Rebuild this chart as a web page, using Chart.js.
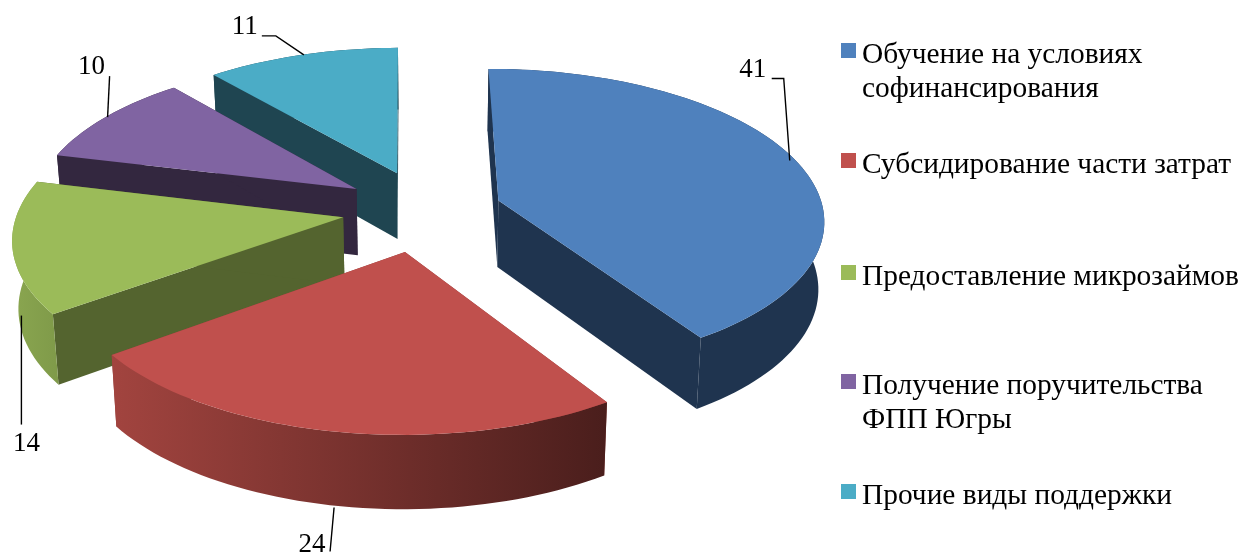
<!DOCTYPE html>
<html lang="ru">
<head>
<meta charset="utf-8">
<title>Виды поддержки</title>
<script src="https://cdn.jsdelivr.net/npm/chart.js@4"></script>
<style>
  html, body { margin: 0; background: #fff; }
  #wrap { position: relative; width: 1253px; height: 554px; overflow: hidden; }
  canvas { display: block; }
  .item { position: absolute; left: 862px; width: 388px; font: 29.4px/33.5px "Liberation Serif", serif; color: #000; }
  .item i { position: absolute; left: -21px; top: 6px; width: 15px; height: 15px; }
</style>
</head>
<body>
<div id="wrap"><canvas id="pie" width="1253" height="554"></canvas></div>
<script>
const categories = [
  "Обучение на условиях софинансирования",
  "Субсидирование части затрат",
  "Предоставление микрозаймов",
  "Получение поручительства ФПП Югры",
  "Прочие виды поддержки",
];
const values = [41, 24, 14, 10, 11];
const explode = [73, 92, 90, 88, 95];

const topColors = ["#4f81bd", "#c0504d", "#9bbb59", "#8064a2", "#4bacc6"];
const wallColors = ["#1f344f", "#8f3f3b", "#54642f", "#33273f", "#1f4551"];
const rimStart = ["#1f344f", "#a2443f", "#8aa650", "#33273f", "#1f4551"];
const rimEnd = ["#1f344f", "#4a1e1c", "#7f9a49", "#33273f", "#1f4551"];

// small screen shift per slice, the explosion alone does not land them exactly
const nudge = [[-1, 0], [-8, -1], [2, -1], [0, 0], [-1, 3]];

// leader line as offsets from the middle of the slice's outer edge, then text spot
const leaders = [
  { pts: [[-5, 1], [-11, -81], [-23, -81]], text: [-42, -83] },
  { pts: [[0, 76], [-4, 120]], text: [-22, 120] },
  { pts: [[9, 68], [9, 177]], text: [14, 203] },
  { pts: [[2, 0], [4, -41]], text: [-14, -43] },
  { pts: [[2, 0], [-26, -19], [-40, -19]], text: [-57, -21] },
];
const legendTop = [37, 147, 259, 368, 478];

const TILT = 0.46;      // squash of the disc plane
const VIEW_DIST = 2700; // perspective
const DEPTH = 67;
const BOTTOM_SHRINK = 0.015;
const DRAW_ORDER = [4, 3, 2, 0, 1];

function project(arc, i, u, v, z) {
  const s = 1 / (1 - v / VIEW_DIST);
  return [
    arc.x + nudge[i][0] + u * s * (1 - z * BOTTOM_SHRINK),
    arc.y + nudge[i][1] + v * TILT * s + z * DEPTH * (1 + (s - 1) * 0.6),
  ];
}

function sliceShape(arc, offset) {
  const mid = (arc.startAngle + arc.endAngle) / 2;
  const ox = Math.cos(mid) * offset;
  const oy = Math.sin(mid) * offset;
  const r = arc.outerRadius;
  const steps = Math.ceil((arc.endAngle - arc.startAngle) / 0.03);
  const edge = [];
  for (let i = 0; i <= steps; i++) {
    const a = arc.startAngle + (arc.endAngle - arc.startAngle) * i / steps;
    edge.push([ox + r * Math.cos(a), oy + r * Math.sin(a)]);
  }
  return { apex: [ox, oy], edge, mid: [ox + r * Math.cos(mid), oy + r * Math.sin(mid)] };
}

function fillPoly(ctx, pts, color) {
  ctx.beginPath();
  pts.forEach((p, i) => (i ? ctx.lineTo(p[0], p[1]) : ctx.moveTo(p[0], p[1])));
  ctx.closePath();
  ctx.fillStyle = color;
  ctx.fill();
}

const pie3d = {
  id: "pie3d",
  beforeDatasetDraw(chart, args) {
    const { ctx } = chart;
    const arcs = args.meta.data;
    ctx.save();
    DRAW_ORDER.forEach(i => {
      const arc = arcs[i];
      const { apex, edge } = sliceShape(arc, arc.options.offset);
      const top = edge.map(p => project(arc, i, p[0], p[1], 0));
      const bottom = edge.map(p => project(arc, i, p[0], p[1], 1));
      const apexTop = project(arc, i, apex[0], apex[1], 0);
      const apexBottom = project(arc, i, apex[0], apex[1], 1);
      const last = top.length - 1;

      fillPoly(ctx, [apexTop, top[0], bottom[0], apexBottom], wallColors[i]);
      fillPoly(ctx, [apexTop, top[last], bottom[last], apexBottom], wallColors[i]);

      const rim = top.concat(bottom.slice().reverse());
      const xs = rim.map(p => p[0]);
      const grad = ctx.createLinearGradient(Math.min(...xs), 0, Math.max(...xs), 0);
      grad.addColorStop(0, rimStart[i]);
      grad.addColorStop(1, rimEnd[i]);
      fillPoly(ctx, rim, grad);

      fillPoly(ctx, [apexTop].concat(top), arc.options.backgroundColor);
    });
    ctx.restore();
    return false;
  },
  afterDatasetsDraw(chart) {
    const { ctx } = chart;
    ctx.save();
    ctx.strokeStyle = "#000";
    ctx.lineWidth = 1.4;
    ctx.fillStyle = "#000";
    ctx.font = '27px "Liberation Serif", serif';
    ctx.textBaseline = "alphabetic";
    ctx.textAlign = "center";
    chart.getDatasetMeta(0).data.forEach((arc, i) => {
      const m = sliceShape(arc, arc.options.offset).mid;
      const [x, y] = project(arc, i, m[0], m[1], 0);
      ctx.beginPath();
      leaders[i].pts.forEach((p, j) => (j ? ctx.lineTo(x + p[0], y + p[1]) : ctx.moveTo(x + p[0], y + p[1])));
      ctx.stroke();
      ctx.fillText(String(values[i]), x + leaders[i].text[0], y + leaders[i].text[1]);
    });
    ctx.restore();
  },
};

new Chart(document.getElementById("pie"), {
  type: "pie",
  data: {
    labels: categories,
    datasets: [{ data: values, backgroundColor: topColors, offset: explode, borderWidth: 0, radius: 325 }],
  },
  options: {
    responsive: false,
    animation: false,
    rotation: -0.5,
    layout: { padding: { right: 393, bottom: 134 } },
    plugins: { legend: { display: false }, tooltip: { enabled: false } },
  },
  plugins: [pie3d],
});

const wrap = document.getElementById("wrap");
categories.forEach((name, i) => {
  const div = document.createElement("div");
  div.className = "item";
  div.style.top = legendTop[i] + "px";
  div.textContent = name;
  const box = document.createElement("i");
  box.style.background = topColors[i];
  div.appendChild(box);
  wrap.appendChild(div);
});
</script>
</body>
</html>
